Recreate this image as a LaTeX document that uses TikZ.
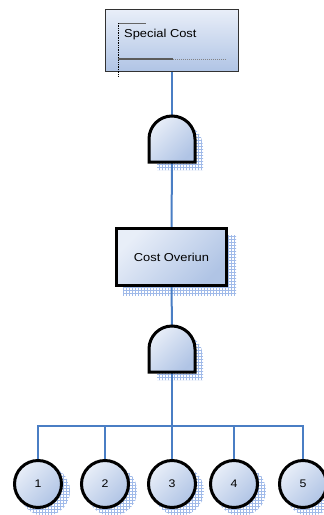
\documentclass[tikz,border=0pt]{standalone}
\usepackage{fontspec}
\setmainfont{Liberation Sans}
\newfontfamily\labelfont[FakeStretch=1.12]{Liberation Sans}
\usetikzlibrary{patterns}
\definecolor{wire}{RGB}{74,126,196}
\definecolor{tintlight}{RGB}{232,238,248}
\definecolor{tintdark}{RGB}{176,196,229}
\definecolor{hatch}{RGB}{160,186,233}
\definecolor{framegray}{RGB}{50,50,50}
\pgfdeclarelayer{shadow}
\pgfdeclarelayer{wires}
\pgfsetlayers{shadow,wires,main}
\tikzset{
  wirel/.style={draw=wire, line width=2pt},
  shade/.style={pattern=grid, pattern color=hatch},
  tint/.style={top color=tintlight, bottom color=tintdark, shading angle=45},
  topevent/.style={draw=framegray, line width=1.2pt, top color=tintlight, bottom color=tintdark,
    minimum width=133pt, minimum height=62pt, inner sep=0pt},
  midevent/.style={draw=black, line width=3pt, tint, minimum width=110pt, minimum height=57pt,
    font=\labelfont\fontsize{11.5}{13}\selectfont},
  basic/.style={circle, draw=black, line width=3pt, tint, minimum size=47pt, inner sep=0pt,
    font=\labelfont\fontsize{11}{12}\selectfont},
  gatebox/.style={minimum width=46pt, minimum height=46pt, inner sep=0pt},
  andgate/.pic={
    \draw[line width=3pt, tint] (-23,23) -- (-23,0) arc[start angle=180, end angle=0, radius=23pt] -- (23,23) -- cycle;
  },
  gateshadow/.pic={
    \fill[shade] (-15,31) -- (-15,8) arc[start angle=180, end angle=0, radius=23pt] -- (31,31) -- cycle;
  }
}
\begin{document}
\begin{tikzpicture}[x=1pt, y=-1pt]
\useasboundingbox (0,0) rectangle (324,515);

% top event with its frame marks
\node[topevent] (sc) at (172,40.5) {};
\node[anchor=west, inner sep=0pt, font=\labelfont\fontsize{11.5}{13}\selectfont] (sctext) at (124,35) {Special Cost};
\draw[framegray!75, line width=1pt] (118,23) -- (146,23);
\draw[black, densely dotted, line width=0.7pt] (118,23) -- (118,77);
\draw[framegray!80, line width=1.4pt] (118,59) -- (173,59);
\draw[framegray!60, densely dotted, line width=1pt] (173,59) -- (226,59);

% gates
\node[gatebox] (g1) at (172,139) {};
\pic at (172,139) {andgate};
\node[gatebox] (g2) at (172,349) {};
\pic at (172,349) {andgate};

% intermediate event
\node[midevent] (co) at (171.5,257) {Cost Overiun};

% basic events
\node[basic] (b1) at (38,484) {1};
\node[basic] (b2) at (105,484) {2};
\node[basic] (b3) at (172,484) {3};
\node[basic] (b4) at (234,484) {4};
\node[basic] (b5) at (303,484) {5};

% drop shadows
\begin{pgfonlayer}{shadow}
  \pic at (172,139) {gateshadow};
  \pic at (172,349) {gateshadow};
  \fill[shade] ([shift={(8,8)}]co.north west) rectangle ([shift={(8,8)}]co.south east);
  \foreach \b in {b1,b2,b3,b4,b5}
    \fill[shade] ([shift={(7,7)}]\b.center) circle[radius=25pt];
\end{pgfonlayer}

% connectors
\coordinate (bus) at (172,426);
\begin{pgfonlayer}{wires}
  \draw[wirel] (sc.south) -- (g1.north);
  \draw[wirel] (g1.south) -- (co.north);
  \draw[wirel] (co.south) -- (g2.north);
  \draw[wirel] (g2.south) -- (bus);
  \foreach \b in {b1,b2,b3,b4,b5}
    \draw[wirel] (\b.north) |- (bus);
\end{pgfonlayer}
\end{tikzpicture}
\end{document}
